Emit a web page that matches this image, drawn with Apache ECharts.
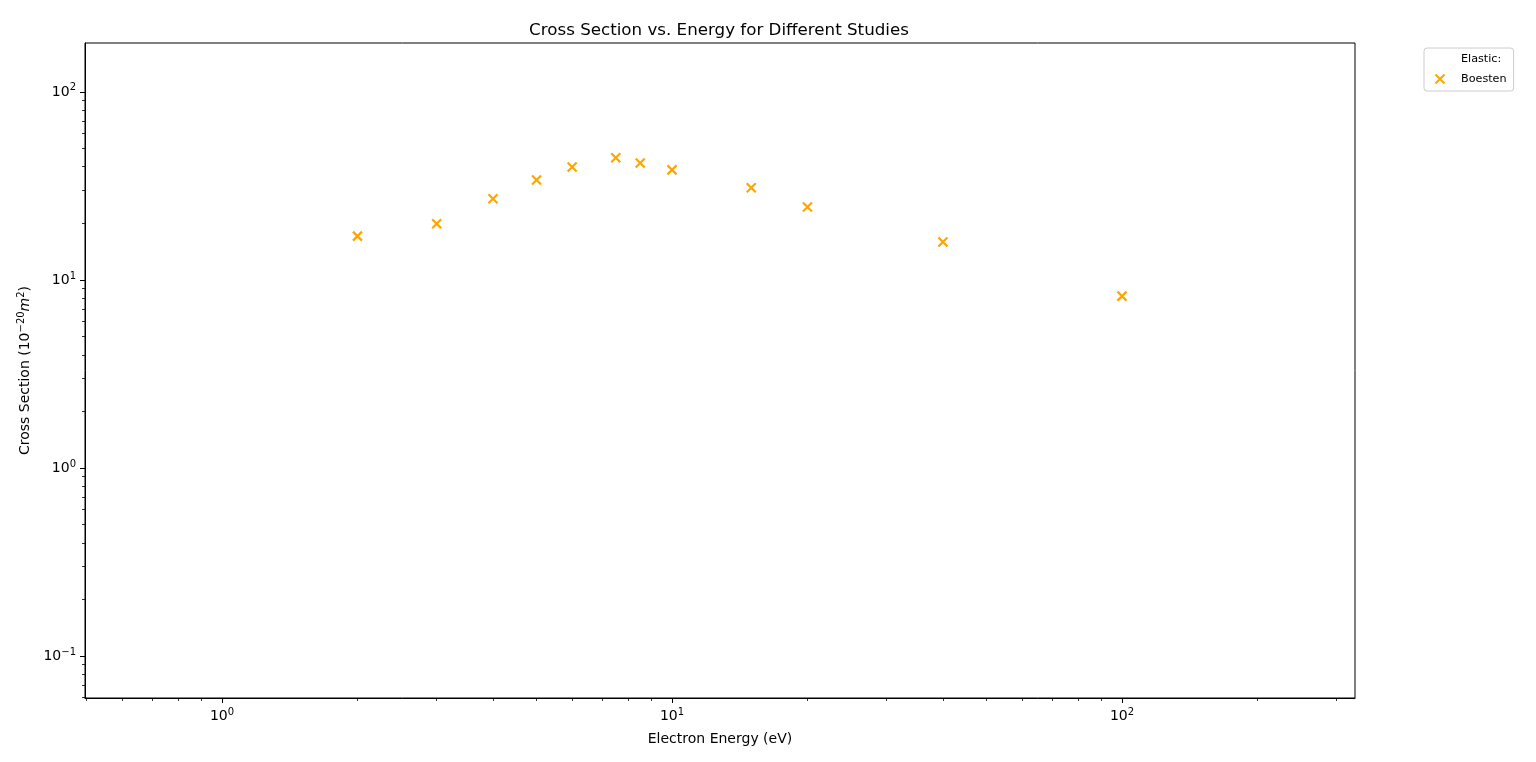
<!DOCTYPE html>
<html>
<head>
<meta charset="utf-8">
<script src="https://cdn.jsdelivr.net/npm/echarts@6/dist/echarts.min.js"></script>
<style>
  html, body { margin: 0; padding: 0; background: #fff; }
  #chart { width: 1536px; height: 762px; }
</style>
</head>
<body>
<div id="chart"></div>
<script>
// Boesten elastic cross sections
var energy = [2, 3, 4, 5, 6, 7.5, 8.5, 10, 15, 20, 40, 100];
var crossSection = [17.1, 19.9, 27.0, 34.0, 39.9, 44.6, 41.9, 38.5, 30.9, 24.4, 15.9, 8.2];

// axis ranges and tick values
var xRange = [0.496, 329.5];
var yRange = [0.0598, 182];
var xMajor = [1, 10, 100];
var xMinor = [0.5, 0.6, 0.7, 0.8, 0.9, 2, 3, 4, 5, 6, 7, 8, 9, 20, 30, 40, 50, 60, 70, 80, 90, 200, 300];
var yMajor = [0.1, 1, 10, 100];
var yMinor = [0.06, 0.07, 0.08, 0.09, 0.2, 0.3, 0.4, 0.5, 0.6, 0.7, 0.8, 0.9,
              2, 3, 4, 5, 6, 7, 8, 9, 20, 30, 40, 50, 60, 70, 80, 90];

var font = 'DejaVu Sans';
var supRich = {
    b: { fontFamily: font, fontSize: 14, lineHeight: 14, verticalAlign: 'bottom', color: '#000' },
    s: { fontFamily: font, fontSize: 10, lineHeight: 10, verticalAlign: 'bottom', padding: [0, 0, 6, 0], color: '#000' }
};

function powLabel(v) {
    var e = Math.round(Math.log10(v));
    return '{b|10}{s|' + (e < 0 ? '\u2212' + (-e) : e) + '}';
}

function majorAxis(range, ticks) {
    return {
        type: 'log',
        logBase: 10,
        min: range[0],
        max: range[1],
        axisLine: { show: true, lineStyle: { color: '#000', width: 1 } },
        axisTick: { show: true, length: 5, inside: false, customValues: ticks, lineStyle: { color: '#000', width: 1 } },
        axisLabel: { show: true, customValues: ticks, formatter: powLabel, rich: supRich, margin: 9 },
        splitLine: { show: false },
        minorTick: { show: false }
    };
}

function minorAxis(range, ticks, pos) {
    return {
        type: 'log',
        logBase: 10,
        position: pos,
        min: range[0],
        max: range[1],
        axisLine: { show: false },
        axisTick: { show: true, length: 3, customValues: ticks, lineStyle: { color: '#000', width: 0.8 } },
        axisLabel: { show: false },
        splitLine: { show: false }
    };
}

var chart = echarts.init(document.getElementById('chart'));

var xMain = majorAxis(xRange, xMajor);
xMain.position = 'bottom';
xMain.name = 'Electron Energy (eV)';
xMain.nameLocation = 'middle';
xMain.nameGap = 34;
xMain.nameTextStyle = { fontFamily: font, fontSize: 14, color: '#000' };
xMain.axisLabel.margin = 11;

var yMain = majorAxis(yRange, yMajor);
yMain.position = 'left';
yMain.name = '{n|Cross Section (10}{s|\u221220}{i|m}{s|2}{n|)}';
yMain.nameLocation = 'middle';
yMain.nameRotate = 90;
yMain.nameGap = 51;
yMain.nameTextStyle = {
    rich: {
        n: { fontFamily: font, fontSize: 14, lineHeight: 14, verticalAlign: 'bottom', color: '#000' },
        i: { fontFamily: font, fontSize: 14, lineHeight: 14, verticalAlign: 'bottom', fontStyle: 'italic', color: '#000' },
        s: { fontFamily: font, fontSize: 10, lineHeight: 10, verticalAlign: 'bottom', padding: [0, 0, 6, 0], color: '#000' }
    }
};

var option = {
    backgroundColor: '#fff',
    animation: false,
    title: {
        text: 'Cross Section vs. Energy for Different Studies',
        left: 714,
        textAlign: 'center',
        top: 17,
        textStyle: { fontFamily: font, fontSize: 16.7, fontWeight: 'normal', color: '#000' }
    },
    legend: {
        orient: 'vertical',
        left: 1424,
        top: 48,
        padding: [5, 7, 5, 4],
        itemWidth: 24,
        itemHeight: 9,
        itemGap: 6,
        borderColor: '#cccccc',
        borderWidth: 1,
        borderRadius: 3,
        backgroundColor: '#fff',
        textStyle: { fontFamily: font, fontSize: 11.2, lineHeight: 13, color: '#000', padding: [0, 0, 0, 4] },
        data: [
            { name: 'Elastic:', icon: 'none' },
            { name: 'Boesten' }
        ]
    },
    grid: {
        left: 85, right: 181, top: 43, bottom: 64,
        show: true, borderColor: '#000', borderWidth: 1,
        containLabel: false
    },
    xAxis: [xMain, minorAxis(xRange, xMinor, 'bottom')],
    yAxis: [yMain, minorAxis(yRange, yMinor, 'left')],
    series: [
        {
            name: 'Elastic:',
            type: 'scatter',
            data: [],
            symbolSize: 0
        },
        {
            name: 'Boesten',
            type: 'scatter',
            xAxisIndex: 0,
            yAxisIndex: 0,
            symbol: 'path://M0,0L10,10M0,10L10,0',
            symbolSize: 9,
            symbolKeepAspect: true,
            itemStyle: { color: 'none', borderColor: '#FFA500', borderWidth: 2.2, opacity: 1 },
            emphasis: { disabled: true },
            data: energy.map(function (e, i) { return [e, crossSection[i]]; })
        }
    ]
};

chart.setOption(option);
</script>
</body>
</html>
